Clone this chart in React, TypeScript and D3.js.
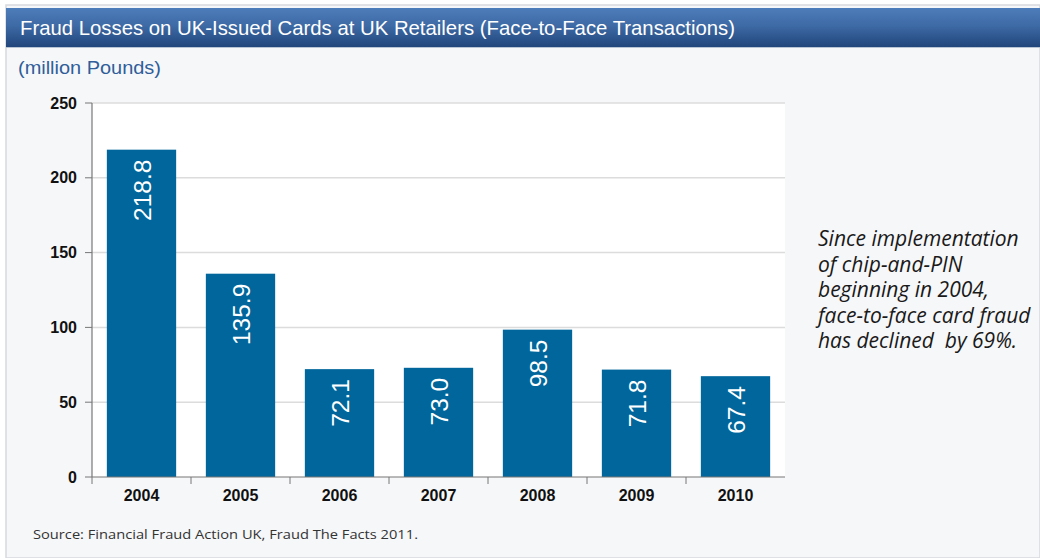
import React from "react";
import * as d3 from "d3";

const years = ["2004", "2005", "2006", "2007", "2008", "2009", "2010"];
const losses = [218.8, 135.9, 72.1, 73.0, 98.5, 71.8, 67.4];
const yTicks = [0, 50, 100, 150, 200, 250];
const titleText = "Fraud Losses on UK-Issued Cards at UK Retailers (Face-to-Face Transactions)";
const unitText = "(million Pounds)";
const sourceText = "Source: Financial Fraud Action UK, Fraud The Facts 2011.";
const noteLines = [
  "Since implementation",
  "of chip-and-PIN",
  "beginning in 2004,",
  "face-to-face card fraud",
  "has declined  by 69%.",
];

const W = 1040;
const H = 558;
const plot = { left: 92, right: 785, top: 103, bottom: 477 };

export default function App() {
  const x = d3.scaleBand().domain(years).range([plot.left, plot.right]).paddingInner(0.3).paddingOuter(0.15);
  const y = d3.scaleLinear().domain([0, 250]).range([plot.bottom, plot.top]);
  const step = x.step();
  const boundaries = years.map((yr) => (x(yr) as number) - step * 0.15);

  return (
    <svg width={W} height={H} style={{ position: "absolute", left: 0, top: 0 }}>
      <defs>
        <linearGradient id="titleGrad" x1="0" y1="0" x2="0" y2="1">
          <stop offset="0%" stopColor="#4d7dba" />
          <stop offset="45%" stopColor="#3e6aa5" />
          <stop offset="100%" stopColor="#21467c" />
        </linearGradient>
      </defs>
      <rect x={0} y={0} width={W} height={H} fill="#ffffff" />
      <rect x={6} y={5} width={W - 6} height={H - 5} fill="#f6f7f9" stroke="#d6d9de" strokeWidth={1.5} />
      <rect x={6} y={8} width={W - 6} height={39} fill="url(#titleGrad)" />
      <line x1={6} x2={W} y1={47.5} y2={47.5} stroke="#b8c4d4" strokeWidth={1} />
      <text
        x={20}
        y={35}
        fill="#ffffff"
        fontFamily="'Liberation Sans Narrow', 'Arial Narrow', 'Liberation Sans', Arial, sans-serif"
        fontSize={21}
        textLength={715}
        lengthAdjust="spacingAndGlyphs"
      >
        {titleText}
      </text>
      <text
        x={18}
        y={74}
        fill="#2f5e9a"
        fontFamily="'Liberation Sans Narrow', 'Liberation Sans', Arial, sans-serif"
        fontSize={18}
        textLength={143}
        lengthAdjust="spacingAndGlyphs"
      >
        {unitText}
      </text>

      <rect x={plot.left} y={plot.top} width={plot.right - plot.left} height={plot.bottom - plot.top} fill="#ffffff" />
      {yTicks.map((t) => (
        <g key={t}>
          {t > 0 && (
            <line x1={plot.left} x2={plot.right} y1={y(t)} y2={y(t)} stroke="#dcdcdc" strokeWidth={1.5} />
          )}
          <line x1={plot.left - 7} x2={plot.left} y1={y(t)} y2={y(t)} stroke="#777" strokeWidth={1} />
          <text
            x={77}
            y={y(t)}
            dy="0.35em"
            textAnchor="end"
            fontFamily="'Liberation Sans', Arial, sans-serif"
            fontWeight="bold"
            fontSize={16}
            fill="#111"
          >
            {t}
          </text>
        </g>
      ))}

      {years.map((yr, i) => {
        const bx = x(yr) as number;
        const top = y(losses[i]);
        const cx = bx + x.bandwidth() / 2;
        return (
          <g key={yr}>
            <rect x={bx} y={top} width={x.bandwidth()} height={plot.bottom - top} fill="#00669b" />
            <text
              transform={`translate(${cx + 9.5},${top + 10}) rotate(-90)`}
              textAnchor="end"
              fill="#ffffff"
              fontFamily="'Liberation Sans', Arial, sans-serif"
              fontSize={24.5}
            >
              {losses[i].toFixed(1)}
            </text>
            <text
              x={cx}
              y={501}
              textAnchor="middle"
              fontFamily="'Liberation Sans', Arial, sans-serif"
              fontWeight="bold"
              fontSize={16}
              fill="#111"
            >
              {yr}
            </text>
          </g>
        );
      })}

      <line x1={plot.left} x2={plot.left} y1={plot.top} y2={plot.bottom} stroke="#777" strokeWidth={1.2} />
      <line x1={plot.left} x2={plot.right} y1={plot.bottom} y2={plot.bottom} stroke="#777" strokeWidth={1.2} />
      {boundaries.map((b, i) => (
        <line key={i} x1={b} x2={b} y1={plot.bottom} y2={plot.bottom + 7} stroke="#777" strokeWidth={1} />
      ))}

      {noteLines.map((l, i) => (
        <text
          key={i}
          x={818}
          y={246 + i * 25.5}
          fontFamily="'Open Sans', 'Noto Sans', sans-serif"
          fontStyle="italic"
          fontSize={21}
          fill="#1a1a1a"
          style={{ whiteSpace: "pre" }}
        >
          {l}
        </text>
      ))}

      <text
        x={33}
        y={539}
        fontFamily="'Open Sans', 'Noto Sans', sans-serif"
        fontSize={13.5}
        fill="#333"
        textLength={385}
        lengthAdjust="spacingAndGlyphs"
      >
        {sourceText}
      </text>
    </svg>
  );
}
